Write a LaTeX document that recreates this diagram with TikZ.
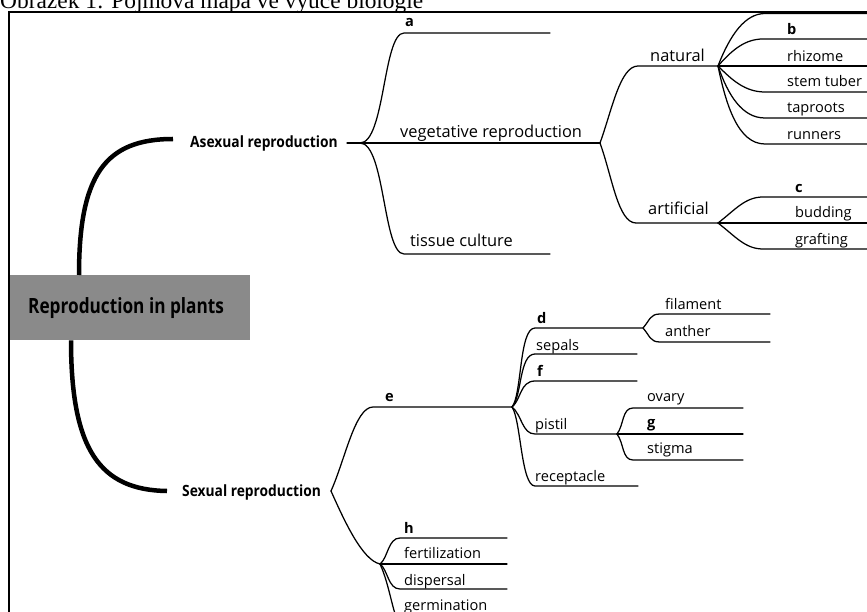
\documentclass[tikz,border=0pt]{standalone}
\usepackage{fontspec}
\setmainfont{Open Sans}
\newfontfamily\capfont{Liberation Serif}
\newfontfamily\headfont[FakeStretch=0.89]{Open Sans}
\newfontfamily\rootfont[FakeStretch=0.82]{Open Sans}
\usetikzlibrary{calc}
\definecolor{boxgray}{HTML}{8A8A8A}
\begin{document}
\begin{tikzpicture}[x=1pt,y=-1pt,
  thinl/.style={line width=1.25pt, line cap=round},
  thickl/.style={line width=4.5pt},
  lab/.style={anchor=base west, inner sep=0pt, font=\fontsize{14.6}{16}\selectfont},
  mlab/.style={anchor=base west, inner sep=0pt, font=\fontsize{16.4}{18}\selectfont},
  blab/.style={anchor=base west, inner sep=0pt, font=\bfseries\fontsize{14.6}{16}\selectfont},
  head/.style={anchor=base west, inner sep=0pt, font=\headfont\bfseries\fontsize{15.5}{18}\selectfont},
  rootbox/.style={fill=boxgray, minimum width=240pt, minimum height=65pt, inner sep=0pt, anchor=north west, font=\rootfont\bfseries\fontsize{21}{24}\selectfont}]
\useasboundingbox (0,0) rectangle (867,612);
\clip (0,0) rectangle (867,612);
% caption and frame
\node[anchor=base west, inner sep=0pt, font=\capfont\fontsize{23.4}{26}\selectfont] (cap) at (0,8.5) {Obrázek 1: Pojmová mapa ve výuce biologie};
\draw[line width=2pt] (8.5,640) |- (900,12.5);
% root
\node[rootbox] (root) at (10,275) {\makebox[204pt][l]{Reproduction in plants}};
\node[head] (asex) at (190,148) {Asexual reproduction};
\node[head] (sex) at (182,496) {Sexual reproduction};
\draw[thickl] ($(root.north west)+(69,0)$) .. controls (79,175) and (105,139) .. ($(asex.base west)+(-17,-9)$);
\draw[thickl] ($(root.south west)+(61,0)$) .. controls (71,450) and (100,490) .. ($(sex.base west)+(-15,-5)$);
% coordinates
\coordinate (A0) at (347,143); \coordinate (JA) at (360,143);
\coordinate (Sa) at (404,33); \coordinate (Ea) at (550,33);
\coordinate (JV) at (600,143);
\coordinate (St) at (404,254); \coordinate (Et) at (550,254);
\coordinate (Sn) at (638,66); \coordinate (JN) at (718,66);
\coordinate (Sr) at (636,223); \coordinate (JR) at (718,223);
\coordinate (Ntop) at (765,13.5); \coordinate (Etop) at (880,13.5);
\coordinate (Sb) at (763,39); \coordinate (Eb) at (880,39);
\coordinate (Erh) at (880,66);
\coordinate (Sst) at (765,92); \coordinate (Est) at (880,92);
\coordinate (Stp) at (765,118); \coordinate (Etp) at (880,118);
\coordinate (Sru) at (765,144); \coordinate (Eru) at (880,144);
\coordinate (Sc) at (763,197); \coordinate (Ec) at (880,197);
\coordinate (Ebu) at (880,223);
\coordinate (Sgr) at (763,249); \coordinate (Egr) at (880,249);
\coordinate (JS) at (331,491);
\coordinate (Se) at (373,407); \coordinate (JE) at (512,407);
\coordinate (JH) at (380,564);
\coordinate (Sd) at (535,328); \coordinate (JD) at (643,328);
\coordinate (Sse) at (535,354); \coordinate (Ese) at (637,354);
\coordinate (Sf) at (535,381); \coordinate (Ef) at (637,381);
\coordinate (Spi) at (535,434); \coordinate (JP) at (617,434);
\coordinate (Sre) at (535,486); \coordinate (Ere) at (638,486);
\coordinate (Sfi) at (660,314); \coordinate (Efi) at (770,314);
\coordinate (San) at (660,342); \coordinate (Ean) at (770,342);
\coordinate (Sov) at (633,408); \coordinate (Eov) at (743,408);
\coordinate (Eg) at (743,434);
\coordinate (Ssg) at (633,460); \coordinate (Esg) at (743,460);
\coordinate (Sh) at (400,538); \coordinate (Eh) at (507,538);
\coordinate (Efe) at (507,564);
\coordinate (Sdi) at (400,589); \coordinate (Edi) at (507,589);
\coordinate (Sge) at (400,622); \coordinate (Ege) at (507,622);
% asexual branches
\draw[thinl] (A0) -- (JA);
\draw[thinl] (JA) .. controls (385,143) and (383,33) .. (Sa) -- (Ea);
\draw[thinl] (JA) -- (JV);
\draw[thinl] (JA) .. controls (385,143) and (383,254) .. (St) -- (Et);
\draw[thinl] (JV) .. controls (612,110) and (620,66) .. (Sn) -- (JN);
\draw[thinl] (JV) .. controls (612,176) and (618,223) .. (Sr) -- (JR);
\draw[thinl] (JN) .. controls (730,35) and (745,13.5) .. (Ntop) -- (Etop);
\draw[thinl] (JN) .. controls (732,50) and (745,39) .. (Sb) -- (Eb);
\draw[thinl] (JN) -- (Erh);
\draw[thinl] (JN) .. controls (732,80) and (745,92) .. (Sst) -- (Est);
\draw[thinl] (JN) .. controls (728,95) and (742,118) .. (Stp) -- (Etp);
\draw[thinl] (JN) .. controls (726,105) and (738,144) .. (Sru) -- (Eru);
\draw[thinl] (JR) .. controls (735,210) and (745,197) .. (Sc) -- (Ec);
\draw[thinl] (JR) -- (Ebu);
\draw[thinl] (JR) .. controls (735,236) and (745,249) .. (Sgr) -- (Egr);
% sexual branches
\draw[thinl] (JS) .. controls (345,460) and (355,407) .. (Se) -- (JE);
\draw[thinl] (JS) .. controls (344,520) and (362,560) .. (JH);
\draw[thinl] (JE) .. controls (522,395) and (519,328) .. (Sd) -- (JD);
\draw[thinl] (JE) .. controls (522,397) and (519,354) .. (Sse) -- (Ese);
\draw[thinl] (JE) .. controls (521,400) and (520,381) .. (Sf) -- (Ef);
\draw[thinl] (JE) .. controls (522,415) and (522,434) .. (Spi) -- (JP);
\draw[thinl] (JE) .. controls (521,420) and (521,486) .. (Sre) -- (Ere);
\draw[thinl] (JD) .. controls (650,320) and (650,314) .. (Sfi) -- (Efi);
\draw[thinl] (JD) .. controls (650,336) and (650,342) .. (San) -- (Ean);
\draw[thinl] (JP) .. controls (624,425) and (622,408) .. (Sov) -- (Eov);
\draw[thinl] (JP) -- (Eg);
\draw[thinl] (JP) .. controls (624,443) and (622,460) .. (Ssg) -- (Esg);
\draw[thinl] (JH) .. controls (388,558) and (388,538) .. (Sh) -- (Eh);
\draw[thinl] (JH) -- (Efe);
\draw[thinl] (JH) .. controls (388,570) and (388,589) .. (Sdi) -- (Edi);
\draw[thinl] (JH) .. controls (390,585) and (394,622) .. (Sge) -- (Ege);
% labels
\node[blab] (la) at (405,27) {a};
\node[mlab] (lveg) at (400,138) {vegetative reproduction};
\node[mlab] (ltis) at (410,247) {tissue culture};
\node[mlab] (lnat) at (650,62) {natural};
\node[mlab] (lart) at (648,215) {artificial};
\node[blab] (lb) at (787,35) {b};
\node[lab] (lrh) at (787,62) {rhizome};
\node[lab] (lst) at (787,87) {stem tuber};
\node[lab] (ltp) at (787,113) {taproots};
\node[lab] (lru) at (787,140) {runners};
\node[blab] (lc) at (795,193) {c};
\node[lab] (lbu) at (795,218) {budding};
\node[lab] (lgr) at (795,245) {grafting};
\node[blab] (le) at (385,401) {e};
\node[blab] (ld) at (537,323) {d};
\node[lab] (lse) at (536,350) {sepals};
\node[blab] (lf) at (537,376) {f};
\node[lab] (lpi) at (535,429) {pistil};
\node[lab] (lre) at (535,481) {receptacle};
\node[lab] (lfi) at (665,309) {filament};
\node[lab] (lan) at (665,336) {anther};
\node[lab] (lov) at (647,401) {ovary};
\node[blab] (lg) at (647,427) {g};
\node[lab] (lsg) at (647,453) {stigma};
\node[blab] (lh) at (404,533) {h};
\node[lab] (lfe) at (404,558) {fertilization};
\node[lab] (ldi) at (404,585) {dispersal};
\node[lab] (lge) at (404,610) {germination};
\end{tikzpicture}
\end{document}
